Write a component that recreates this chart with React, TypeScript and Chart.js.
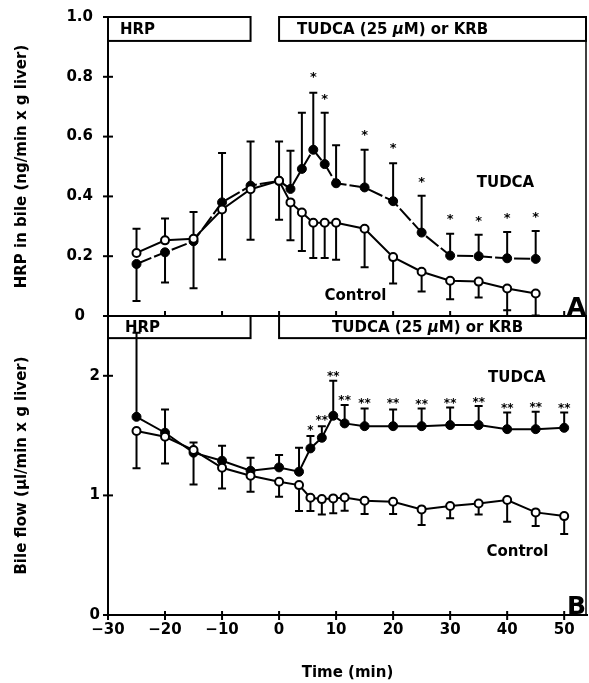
import React, { useEffect, useRef } from "react";
import { Chart, registerables } from "chart.js";

Chart.register(...registerables);

// ---------- Panel A: HRP in bile ----------
const timesA = [-25, -20, -15, -10, -5, 0, 2, 4, 6, 8, 10, 15, 20, 25, 30, 35, 40, 45];
const tudcaA = [0.174, 0.213, 0.25, 0.38, 0.436, 0.452, 0.425, 0.492, 0.556, 0.508, 0.444, 0.43, 0.384, 0.279, 0.202, 0.2, 0.193, 0.191];
const tudcaAErrEnd = [0.05, 0.112, 0.093, 0.545, 0.584, 0.584, 0.553, 0.68, 0.747, 0.68, 0.571, 0.556, 0.511, 0.402, 0.275, 0.272, 0.281, 0.284];
const controlA = [0.211, 0.253, 0.258, 0.356, 0.424, 0.452, 0.38, 0.346, 0.312, 0.312, 0.312, 0.292, 0.197, 0.148, 0.118, 0.115, 0.092, 0.075];
const controlAErrEnd = [0.292, 0.326, 0.348, 0.189, 0.255, 0.322, 0.253, 0.217, 0.194, 0.194, 0.188, 0.163, 0.109, 0.082, 0.056, 0.062, 0.019, 0.002];
const starTimesA = [6, 8, 15, 20, 25, 30, 35, 40, 45];
const starLevelsA = [0.809, 0.736, 0.616, 0.571, 0.458, 0.335, 0.329, 0.337, 0.34];
const starMarksA = ["*", "*", "*", "*", "*", "*", "*", "*", "*"];

// ---------- Panel B: Bile flow ----------
const timesB = [-25, -20, -15, -10, -5, 0, 3.5, 5.5, 7.5, 9.5, 11.5, 15, 20, 25, 30, 35, 40, 45, 50];
const tudcaB = [1.657, 1.524, 1.357, 1.29, 1.206, 1.234, 1.198, 1.393, 1.482, 1.666, 1.602, 1.579, 1.579, 1.579, 1.588, 1.588, 1.554, 1.554, 1.565];
const tudcaBErrEnd = [2.36, 1.719, 1.092, 1.415, 1.315, 1.337, 1.398, 1.496, 1.579, 1.958, 1.755, 1.727, 1.719, 1.727, 1.735, 1.747, 1.694, 1.699, 1.694];
const controlB = [1.538, 1.49, 1.379, 1.231, 1.164, 1.114, 1.086, 0.98, 0.969, 0.975, 0.983, 0.955, 0.947, 0.883, 0.911, 0.933, 0.961, 0.858, 0.827];
const controlBErrEnd = [1.226, 1.267, 1.443, 1.058, 1.031, 0.989, 0.869, 0.869, 0.841, 0.85, 0.872, 0.844, 0.844, 0.752, 0.808, 0.841, 0.78, 0.744, 0.677];
const starTimesB = [5.5, 7.5, 9.5, 11.5, 15, 20, 25, 30, 35, 40, 45, 50];
const starLevelsB = [1.565, 1.652, 2.02, 1.819, 1.797, 1.797, 1.783, 1.797, 1.802, 1.755, 1.76, 1.755];
const starMarksB = ["*", "**", "**", "**", "**", "**", "**", "**", "**", "**", "**", "**"];

// ---------- Axes ----------
const xTicks = [-30, -20, -10, 0, 10, 20, 30, 40, 50];
const xTicksPanelA = [-20, -10, 0, 10, 20, 30, 40, 50];
const yTicksA = [0, 0.2, 0.4, 0.6, 0.8, 1.0];
const yTicksB = [0, 1, 2];

const FAM = "'DejaVu Sans', sans-serif";
const bold = (s: number) => `bold ${s}px ${FAM}`;

export default function App() {
  const ref = useRef<HTMLCanvasElement>(null);

  useEffect(() => {
    const canvas = ref.current!;
    const pts = (xs: number[], ys: number[]) => xs.map((x, i) => ({ x, y: ys[i] }));

    const overlay = {
      id: "overlay",
      beforeDatasetsDraw(chart: any) {
        const { ctx } = chart;
        const xs = chart.scales.x;
        ctx.save();
        ctx.strokeStyle = "#000";
        ctx.lineWidth = 2;
        chart.data.datasets.forEach((ds: any) => {
          const ys = chart.scales[ds.yAxisID];
          ds.data.forEach((p: any, i: number) => {
            const end = ds.errEnd[i];
            if (end == null) return;
            const px = xs.getPixelForValue(p.x);
            const py = ys.getPixelForValue(p.y);
            const pe = ys.getPixelForValue(end);
            ctx.beginPath();
            ctx.moveTo(px, py);
            ctx.lineTo(px, pe);
            ctx.moveTo(px - 4, pe);
            ctx.lineTo(px + 4, pe);
            ctx.stroke();
          });
        });
        ctx.restore();
      },
      afterDraw(chart: any) {
        const { ctx, chartArea } = chart;
        const xs = chart.scales.x;
        const yA = chart.scales.yA;
        const yB = chart.scales.yB;
        const L = chartArea.left;
        const R = chartArea.right;
        ctx.save();
        ctx.strokeStyle = "#000";
        ctx.fillStyle = "#000";
        ctx.lineWidth = 2;

        // panel A base line
        const a0 = yA.getPixelForValue(0);
        ctx.beginPath();
        ctx.moveTo(L, a0);
        ctx.lineTo(R, a0);
        ctx.stroke();
        // panel A upward ticks
        xTicksPanelA.forEach((v) => {
          const px = xs.getPixelForValue(v);
          ctx.beginPath();
          ctx.moveTo(px, a0);
          ctx.lineTo(px, a0 - 5);
          ctx.stroke();
        });
        // bottom x ticks (crossing)
        const b0 = yB.getPixelForValue(0);
        xTicks.forEach((v) => {
          const px = xs.getPixelForValue(v);
          ctx.beginPath();
          ctx.moveTo(px, b0 - 4);
          ctx.lineTo(px, b0 + 5);
          ctx.stroke();
        });
        // y ticks crossing
        yTicksA.forEach((v) => {
          const py = yA.getPixelForValue(v);
          ctx.beginPath();
          ctx.moveTo(L - 5, py);
          ctx.lineTo(L + 5, py);
          ctx.stroke();
        });
        yTicksB.forEach((v) => {
          const py = yB.getPixelForValue(v);
          ctx.beginPath();
          ctx.moveTo(L - 5, py);
          ctx.lineTo(L + 5, py);
          ctx.stroke();
        });
        // right border
        ctx.lineWidth = 1.5;
        ctx.beginPath();
        ctx.moveTo(R - 1, chartArea.top);
        ctx.lineTo(R - 1, b0);
        ctx.stroke();
        ctx.lineWidth = 2;

        // treatment boxes
        const box = (ys: any, x0: number, x1: number, top: number, bot: number) => {
          const px0 = xs.getPixelForValue(x0);
          const px1 = Math.min(xs.getPixelForValue(x1), R - 1);
          const py0 = ys.getPixelForValue(top);
          const py1 = ys.getPixelForValue(bot);
          ctx.strokeRect(px0, py0, px1 - px0, py1 - py0);
          return (py0 + py1) / 2;
        };
        const xMax = xs.max;
        const midA = box(yA, -30, -5, 1.0, 0.92);
        box(yA, 0, xMax, 1.0, 0.92);
        const midB = box(yB, -30, -5, 2.5, 2.315);
        box(yB, 0, xMax, 2.5, 2.315);

        const drawTreat = (x: number, y: number) => {
          ctx.textBaseline = "middle";
          ctx.textAlign = "left";
          const p1 = "TUDCA (25 ";
          const p2 = "\u00b5";
          const p3 = "M) or KRB";
          ctx.font = bold(15);
          ctx.fillText(p1, x, y);
          let cx = x + ctx.measureText(p1).width;
          ctx.font = `italic bold 15px ${FAM}`;
          ctx.fillText(p2, cx, y);
          cx += ctx.measureText(p2).width;
          ctx.font = bold(15);
          ctx.fillText(p3, cx, y);
        };
        ctx.font = bold(15);
        ctx.textBaseline = "middle";
        ctx.textAlign = "left";
        ctx.fillText("HRP", xs.getPixelForValue(-30) + 12, midA + 1);
        ctx.fillText("HRP", xs.getPixelForValue(-30) + 17, midB + 1);
        drawTreat(xs.getPixelForValue(0) + 18, midA + 1);
        drawTreat(xs.getPixelForValue(0) + 53, midB + 1);

        // series labels
        ctx.textAlign = "center";
        ctx.fillText("TUDCA", xs.getPixelForValue(39.7), yA.getPixelForValue(0.443));
        ctx.fillText("Control", xs.getPixelForValue(13.4), yA.getPixelForValue(0.067));
        ctx.fillText("TUDCA", xs.getPixelForValue(41.7), yB.getPixelForValue(1.98));
        ctx.fillText("Control", xs.getPixelForValue(41.8), yB.getPixelForValue(0.525));

        // panel letters
        ctx.font = bold(25);
        ctx.textAlign = "right";
        ctx.textBaseline = "alphabetic";
        ctx.fillText("A", R - 1, a0 - 1);
        ctx.fillText("B", R - 1, b0 - 1);

        // significance marks
        const stars = (ys: any, t: number[], v: number[], m: string[], size: number) => {
          ctx.font = bold(size);
          ctx.textAlign = "center";
          ctx.textBaseline = "alphabetic";
          t.forEach((tt, i) => {
            ctx.fillText(m[i], xs.getPixelForValue(tt), ys.getPixelForValue(v[i]) + size * 0.55);
          });
        };
        stars(yA, starTimesA, starLevelsA, starMarksA, 13);
        stars(yB, starTimesB, starLevelsB, starMarksB, 12);
        ctx.restore();
      },
    };

    const tickFont = { family: FAM, size: 15, weight: "bold" as const };

    const chart = new Chart(canvas, {
      type: "line",
      data: {
        datasets: [
          {
            label: "Control A",
            data: pts(timesA, controlA),
            errEnd: controlAErrEnd,
            yAxisID: "yA",
            borderColor: "#000",
            borderWidth: 2,
            pointRadius: 4,
            pointBorderWidth: 2,
            pointBackgroundColor: "#fff",
            pointBorderColor: "#000",
          } as any,
          {
            label: "TUDCA A",
            data: pts(timesA, tudcaA),
            errEnd: tudcaAErrEnd,
            yAxisID: "yA",
            borderColor: "#000",
            borderWidth: 2,
            borderDash: [16, 3],
            pointRadius: 4.5,
            pointBorderWidth: 1,
            pointBackgroundColor: "#000",
            pointBorderColor: "#000",
          } as any,
          {
            label: "Control B",
            data: pts(timesB, controlB),
            errEnd: controlBErrEnd,
            yAxisID: "yB",
            borderColor: "#000",
            borderWidth: 2,
            pointRadius: 4,
            pointBorderWidth: 2,
            pointBackgroundColor: "#fff",
            pointBorderColor: "#000",
          } as any,
          {
            label: "TUDCA B",
            data: pts(timesB, tudcaB),
            errEnd: tudcaBErrEnd,
            yAxisID: "yB",
            borderColor: "#000",
            borderWidth: 2,
            pointRadius: 4.5,
            pointBorderWidth: 1,
            pointBackgroundColor: "#000",
            pointBorderColor: "#000",
          } as any,
        ],
      },
      options: {
        animation: false,
        responsive: false,
        layout: { autoPadding: false, padding: { left: 0, right: 2, top: 17, bottom: 0 } },
        plugins: { legend: { display: false }, tooltip: { enabled: false } },
        scales: {
          x: {
            type: "linear",
            position: "bottom",
            min: -30,
            max: 54,
            grid: { display: false, drawTicks: false },
            border: { display: true, color: "#000", width: 2 },
            afterBuildTicks: (s: any) => {
              s.ticks = xTicks.map((v) => ({ value: v }));
            },
            afterFit: (s: any) => {
              s.height = 68;
              s.paddingLeft = 0;
              s.paddingRight = 0;
            },
            ticks: {
              color: "#000",
              font: tickFont,
              padding: 6,
              maxRotation: 0,
              callback: (v: any) => (v < 0 ? "\u2212" + Math.abs(v) : String(v)),
            },
            title: {
              display: true,
              text: "Time (min)",
              color: "#000",
              font: tickFont,
              padding: { top: 0, bottom: 1 },
            },
          },
          yB: {
            type: "linear",
            position: "left",
            stack: "panels",
            stackWeight: 1,
            min: 0,
            max: 2.5,
            grid: { display: false, drawTicks: false },
            border: { display: true, color: "#000", width: 2 },
            afterBuildTicks: (s: any) => {
              s.ticks = yTicksB.map((v) => ({ value: v }));
            },
            afterFit: (s: any) => {
              s.width = 108;
              s.paddingTop = 0;
              s.paddingBottom = 0;
            },
            ticks: {
              color: "#000",
              font: tickFont,
              padding: 8,
              callback: (v: any) => String(v),
            },
            title: {
              display: true,
              text: "Bile flow (\u00b5l/min x g liver)",
              color: "#000",
              font: tickFont,
              padding: { top: 13, bottom: 0 },
            },
          },
          yA: {
            type: "linear",
            position: "left",
            stack: "panels",
            stackWeight: 1,
            min: 0,
            max: 1,
            grid: { display: false, drawTicks: false },
            border: { display: true, color: "#000", width: 2 },
            afterBuildTicks: (s: any) => {
              s.ticks = yTicksA.map((v) => ({ value: v }));
            },
            afterFit: (s: any) => {
              s.width = 108;
              s.paddingTop = 0;
              s.paddingBottom = 0;
            },
            ticks: {
              color: "#000",
              font: tickFont,
              padding: 15,
              crossAlign: "center",
              callback: (v: any) => (v === 0 ? "0" : Number(v).toFixed(1)),
            },
            title: {
              display: true,
              text: "HRP in bile (ng/min x g liver)",
              color: "#000",
              font: tickFont,
              padding: { top: 13, bottom: 0 },
            },
          },
        },
      } as any,
      plugins: [overlay],
    });
    return () => chart.destroy();
  }, []);

  return (
    <div style={{ position: "absolute", left: 0, top: 0, width: 589, height: 683, background: "#fff" }}>
      <canvas ref={ref} width={589} height={683} style={{ width: 589, height: 683, display: "block" }} />
    </div>
  );
}
